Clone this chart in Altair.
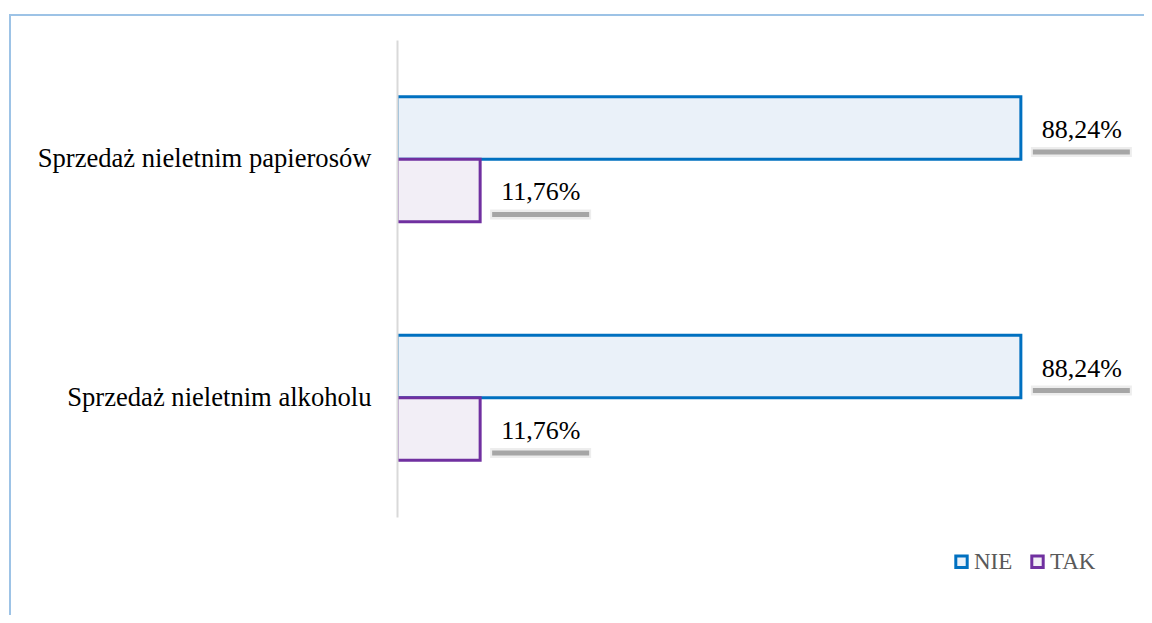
import altair as alt
import pandas as pd

categories = ["Sprzedaż nieletnim papierosów", "Sprzedaż nieletnim alkoholu"]
series = ["NIE", "TAK"]
nie_values = [88.24, 88.24]
tak_values = [11.76, 11.76]
fill_colors = ["#EAF1F9", "#F2EEF6"]
stroke_colors = ["#0070C0", "#7030A0"]

rows = []
for i, c in enumerate(categories):
    for s, v in zip(series, [nie_values[i], tak_values[i]]):
        rows.append({"cat": c, "series": s, "value": v,
                     "label": f"{v:.2f}".replace(".", ",") + "%"})
df = pd.DataFrame(rows)

FONT = "Liberation Serif"

y_enc = alt.Y("cat:N", sort=categories, title=None,
              scale=alt.Scale(paddingInner=0.476, paddingOuter=0.238),
              axis=alt.Axis(ticks=False, domainColor="#D9D9D9", domainWidth=2,
                            labelFont=FONT, labelFontSize=26.6, labelColor="#000000",
                            labelPadding=26, labelLimit=400, zindex=1, grid=False))
yoff = alt.YOffset("series:N", sort=series,
                   scale=alt.Scale(paddingInner=0, paddingOuter=0))
x_enc = alt.X("value:Q", scale=alt.Scale(domain=[0, 100]), axis=None)

legend = alt.Legend(title=None, orient="none", legendX=553, legendY=510,
                    direction="horizontal", symbolType="square", symbolSize=130,
                    symbolStrokeWidth=3, labelFont=FONT, labelFontSize=23,
                    labelColor="#595959", columnPadding=12, labelOffset=1)

base = alt.Chart(df)

bars = base.mark_bar(strokeWidth=3, clip=True).encode(
    y=y_enc, yOffset=yoff, x=x_enc,
    fill=alt.Fill("series:N", sort=series,
                  scale=alt.Scale(domain=series, range=fill_colors), legend=legend),
    stroke=alt.Stroke("series:N", sort=series,
                      scale=alt.Scale(domain=series, range=stroke_colors), legend=legend),
)

text = base.mark_text(align="left", baseline="middle", dx=21, dy=2,
                      font=FONT, fontSize=26, color="#000000").encode(
    y=alt.Y("cat:N", sort=categories),
    yOffset=alt.YOffset("series:N", sort=series),
    x="value:Q", text="label:N",
)

main = alt.layer(bars, text)

# label shadows: a separate offset scale shifted below each label
shadow_off = alt.YOffset("series:N", sort=series,
                         scale=alt.Scale(domain=series, range=[24, 149],
                                         paddingInner=0, paddingOuter=0))
shadow_halo = base.mark_rule(color="#EDEDED", strokeWidth=10, xOffset=10, x2Offset=111).encode(
    y=alt.Y("cat:N", sort=categories), yOffset=shadow_off,
    x="value:Q", x2="value:Q",
)
shadow = base.mark_rule(color="#A6A6A6", strokeWidth=5, xOffset=12, x2Offset=109).encode(
    y=alt.Y("cat:N", sort=categories), yOffset=shadow_off,
    x="value:Q", x2="value:Q",
)
shadows = alt.layer(shadow_halo, shadow)

frame_top = alt.Chart(pd.DataFrame({"a": [0]})).mark_rule(color="#9DC3E6", strokeWidth=2).encode(
    x=alt.value(-387), x2=alt.value(760), y=alt.value(-25))
frame_left = alt.Chart(pd.DataFrame({"a": [0]})).mark_rule(color="#9DC3E6", strokeWidth=2).encode(
    x=alt.value(-387), y=alt.value(-26), y2=alt.value(600))

chart = alt.layer(frame_top, frame_left, shadows, main).resolve_scale(
    yOffset="independent"
).properties(
    width=707, height=477,
    padding={"left": 389, "top": 32, "right": 40, "bottom": 98},
    autosize=alt.AutoSizeParams(type="none"),
).configure_view(stroke=None)

chart.save("out.html", embed_options={"renderer": "svg", "actions": False})
